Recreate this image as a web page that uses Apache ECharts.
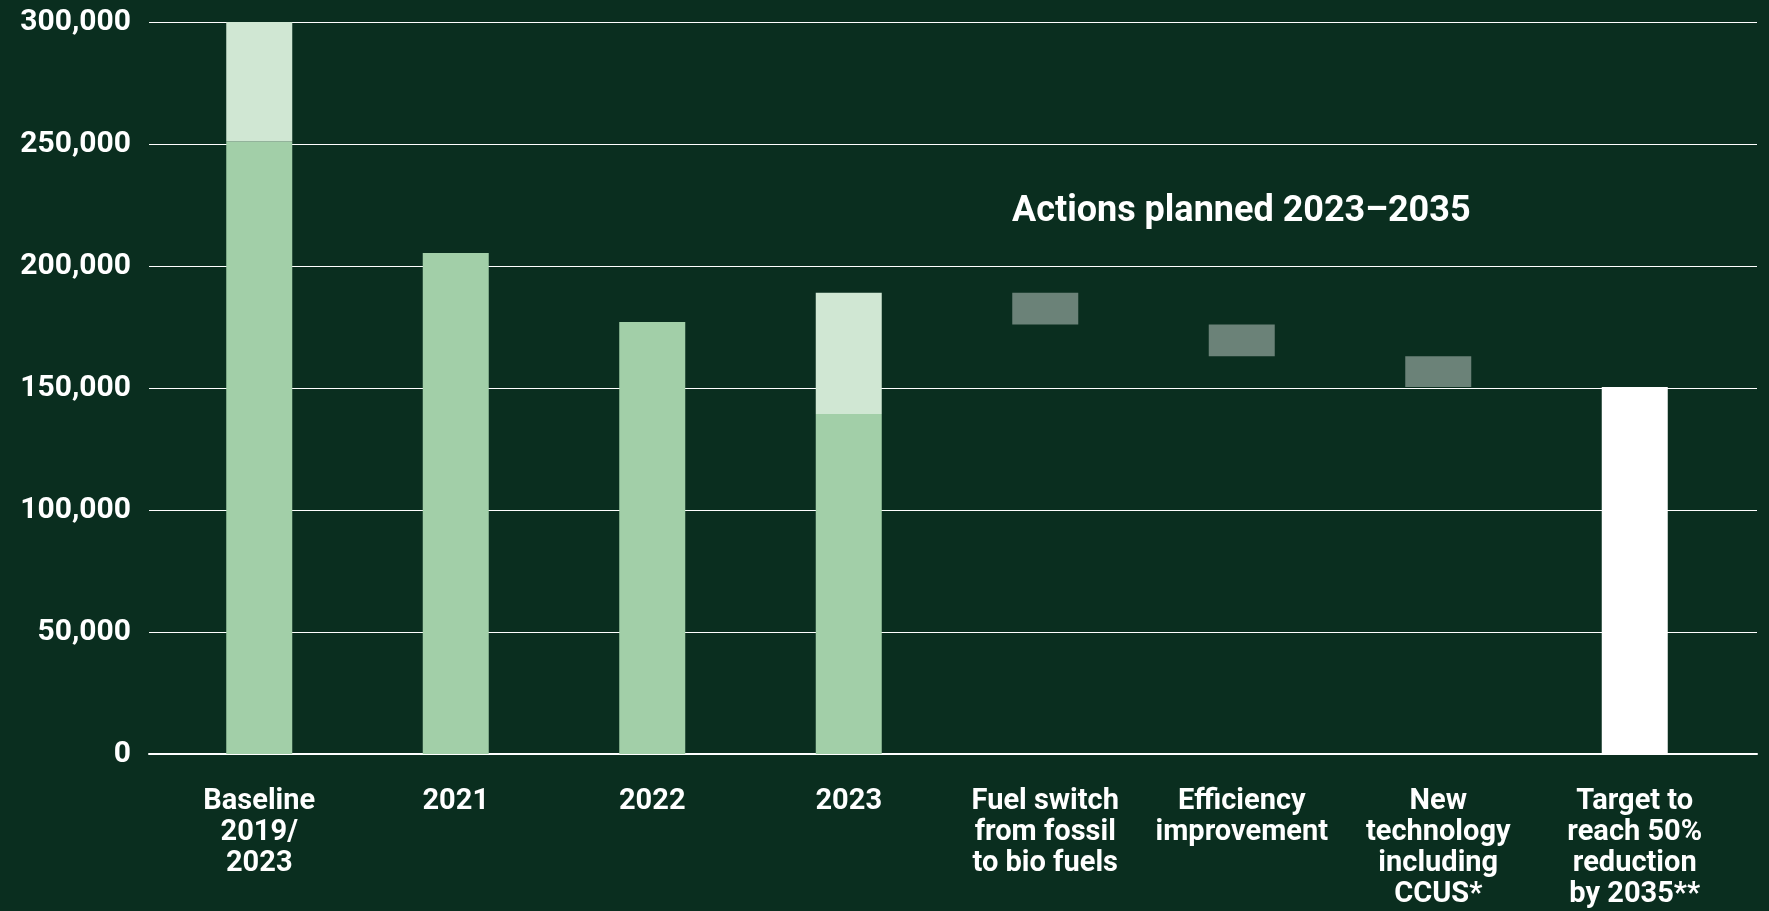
<!DOCTYPE html>
<html>
<head>
<meta charset="utf-8">
<script src="https://cdn.jsdelivr.net/npm/echarts@6/dist/echarts.min.js"></script>
<style>
  html, body { margin: 0; padding: 0; background: #0a2e1f; }
  #chart { width: 1769px; height: 911px; }
</style>
</head>
<body>
<div id="chart"></div>
<script>
const categories = [
  'Baseline\n2019/\n2023', '2021', '2022', '2023',
  'Fuel switch\nfrom fossil\nto bio fuels', 'Efficiency\nimprovement',
  'New\ntechnology\nincluding\nCCUS*', 'Target to\nreach 50%\nreduction\nby 2035**'
];
// emissions (lower, mid-green part)
const emissionsMain = [251000, 205300, 177000, 139300, null, null, null, null];
// lighter top part of stacked bars
const emissionsExtra = [49000, null, null, 49700, null, null, null, null];
// planned actions: from (upper) and to (lower) levels
const actionFrom = [null, null, null, null, 189000, 176000, 163000, null];
const actionTo   = [null, null, null, null, 176000, 163000, 150400, null];
// target
const targetValue = [null, null, null, null, null, null, null, 150400];
const yTicks = [0, 50000, 100000, 150000, 200000, 250000, 300000];
const titleText = 'Actions planned 2023\u20132035';

const actionBase = actionTo.map(v => v);
const actionSize = actionFrom.map((v, i) => (v == null ? null : v - actionTo[i]));

const FONT = 'Roboto';
const chart = echarts.init(document.getElementById('chart'), null, { renderer: 'canvas' });
const yMin = yTicks[0], yMax = yTicks[yTicks.length - 1], yInt = yTicks[1] - yTicks[0];

chart.setOption({
  backgroundColor: '#0a2e1f',
  animation: false,
  grid: [
    { left: 149, right: 12, top: 22, bottom: 157 },
    { left: 161, right: 36, top: 22, bottom: 157 }
  ],
  xAxis: [
    {
      type: 'category', gridIndex: 0, data: categories,
      axisLine: { show: true, lineStyle: { color: '#ffffff', width: 2 } },
      axisTick: { show: false }, axisLabel: { show: false }, splitLine: { show: false }
    },
    {
      type: 'category', gridIndex: 1, data: categories,
      axisLine: { show: false }, axisTick: { show: false },
      axisLabel: {
        interval: 0, color: '#ffffff', fontFamily: FONT, fontWeight: 'bold',
        fontSize: 29, lineHeight: 31, margin: 32, align: 'center'
      }
    }
  ],
  yAxis: [
    {
      type: 'value', gridIndex: 0, min: yMin, max: yMax, interval: yInt,
      axisLine: { show: false }, axisTick: { show: false },
      axisLabel: {
        color: '#ffffff', fontFamily: FONT, fontWeight: 'bold', fontSize: 30, margin: 18,
        formatter: v => v.toLocaleString('en-US')
      },
      splitLine: { show: true, lineStyle: { color: '#ffffff', width: 1 } }
    },
    {
      type: 'value', gridIndex: 1, min: yMin, max: yMax, interval: yInt,
      axisLine: { show: false }, axisTick: { show: false },
      axisLabel: { show: false }, splitLine: { show: false }
    }
  ],
  graphic: [
    {
      type: 'text', left: 1012, top: 194,
      style: {
        text: titleText, fill: '#ffffff', font: 'bold 36px ' + FONT
      }
    }
  ],
  series: [
    {
      type: 'bar', name: 'main', xAxisIndex: 1, yAxisIndex: 1, stack: 'e',
      barWidth: 66, data: emissionsMain, itemStyle: { color: '#a2cfa8' }
    },
    {
      type: 'bar', name: 'extra', xAxisIndex: 1, yAxisIndex: 1, stack: 'e',
      barWidth: 66, data: emissionsExtra, itemStyle: { color: '#d0e7d3' }
    },
    {
      type: 'bar', name: 'base', xAxisIndex: 1, yAxisIndex: 1, stack: 'e',
      barWidth: 66, data: actionBase, itemStyle: { color: 'transparent' }, silent: true
    },
    {
      type: 'bar', name: 'action', xAxisIndex: 1, yAxisIndex: 1, stack: 'e',
      barWidth: 66, data: actionSize, itemStyle: { color: '#6b8278' }
    },
    {
      type: 'bar', name: 'target', xAxisIndex: 1, yAxisIndex: 1, stack: 'e',
      barWidth: 66, data: targetValue, itemStyle: { color: '#ffffff' }
    }
  ]
});
</script>
</body>
</html>
